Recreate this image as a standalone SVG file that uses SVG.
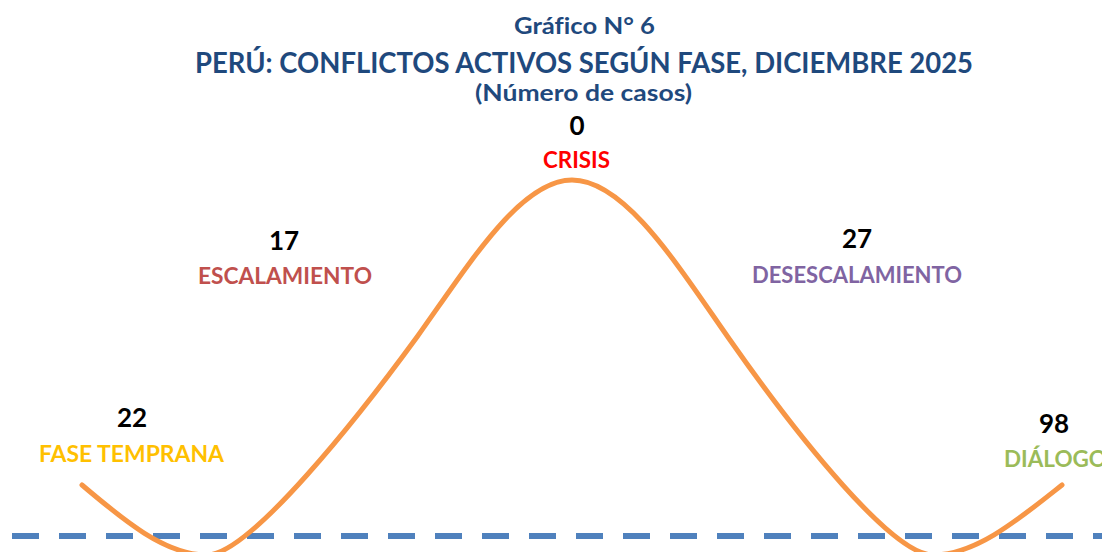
<svg xmlns="http://www.w3.org/2000/svg" width="1102" height="552" viewBox="0 0 1102 552">
<style>
text{font-family:Lato,"Liberation Sans",sans-serif;font-weight:bold;font-variant-ligatures:none;}
.title{fill:#1F497D;}
.num{fill:#000000;font-size:26px;text-anchor:middle;}
.lbl{font-size:22px;}
</style>
<rect x="0" y="0" width="1102" height="552" fill="#FFFFFF"/>
<g id="title">
<text class="title" x="514" y="34" font-size="23" textLength="141" lengthAdjust="spacingAndGlyphs">Gráfico N° 6</text>
<text class="title" x="195" y="73" font-size="28" textLength="778" lengthAdjust="spacingAndGlyphs">PERÚ: CONFLICTOS ACTIVOS SEGÚN FASE, DICIEMBRE 2025</text>
<text class="title" x="475" y="101" font-size="23" textLength="217" lengthAdjust="spacingAndGlyphs">(Número de casos)</text>
</g>
<g id="baseline">
<line x1="12" y1="536" x2="1102" y2="536" stroke="#4F81BD" stroke-width="6" stroke-dasharray="27 20"/>
</g>
<g id="connectors">
<path d="M82,485 C123.7,520.4 165.3,555 207,555 C250,555 360,415 417,337 C468.7,264.7 520.3,180 572,180 C624.7,180 677.3,264.7 730,340 C800,440 893,555 933,555 C976,555 1019,519 1062,485" fill="none" stroke="#F79646" stroke-width="5" stroke-linecap="round"/>
</g>
<g id="fase-temprana">
<text class="num" x="132" y="427">22</text>
<text class="lbl" x="39" y="462" fill="#FFC000" textLength="185" lengthAdjust="spacingAndGlyphs">FASE TEMPRANA</text>
</g>
<g id="escalamiento">
<text class="num" x="284" y="250">17</text>
<text class="lbl" x="198" y="284" fill="#C0504D" textLength="174" lengthAdjust="spacingAndGlyphs">ESCALAMIENTO</text>
</g>
<g id="crisis">
<text class="num" x="577" y="135">0</text>
<text class="lbl" x="543" y="168" fill="#FF0000" textLength="67" lengthAdjust="spacingAndGlyphs">CRISIS</text>
</g>
<g id="desescalamiento">
<text class="num" x="857" y="248">27</text>
<text class="lbl" x="752" y="283" fill="#8064A2" textLength="210" lengthAdjust="spacingAndGlyphs">DESESCALAMIENTO</text>
</g>
<g id="dialogo">
<text class="num" x="1054" y="433">98</text>
<text class="lbl" x="1004" y="467" fill="#9BBB59" textLength="103" lengthAdjust="spacingAndGlyphs">DIÁLOGO</text>
</g>
</svg>
